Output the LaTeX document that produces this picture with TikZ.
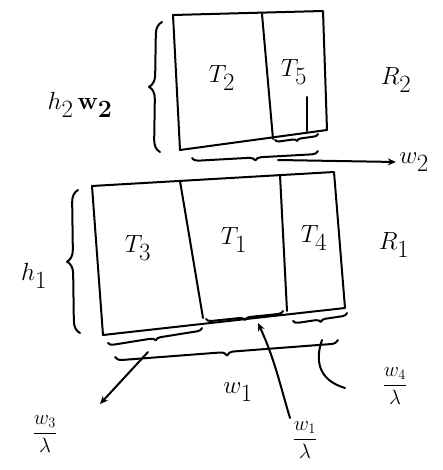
\documentclass[tikz,border=0pt]{standalone}
\usetikzlibrary{decorations.pathreplacing,arrows.meta}
\begin{document}
\begin{tikzpicture}[x=1pt,y=-1pt,
  ink/.style={line width=2pt,line cap=round,line join=round},
  brc/.style={ink,decorate,decoration={brace,amplitude=#1}},
  brc/.default=8pt,
  tile/.style={font=\fontsize{44}{44}\selectfont},
  lab/.style={font=\fontsize{34}{34}\selectfont},
  flab/.style={font=\fontsize{22}{22}\selectfont},
  arr/.style={ink,-{Stealth[length=8pt,width=7pt]}}]
\useasboundingbox (0,0) rectangle (442,470);
% R2 region
\coordinate (a1) at (173,15); \coordinate (a2) at (323,11);
\coordinate (a3) at (327,130); \coordinate (a4) at (180,150);
\coordinate (d1) at (262,14); \coordinate (d2) at (273,139);
\draw[ink] (a1) -- (a2) -- (a3) -- (a4) -- cycle;
\draw[ink] (d1) -- (d2);
\node[tile] (t2) at (222,78) {$T_2$};
\node[tile] (t5) at (294,72) {$T_5$};
\node[lab] (r2) at (396,80) {$R_2$};
\coordinate (v1) at (307,97); \coordinate (v2) at (307,131);
\draw[ink] (v1) -- (v2);
\coordinate (b5l) at (318,134); \coordinate (b5r) at (275,140);
\draw[brc=4pt] (b5l) -- (b5r);
\coordinate (b2r) at (318,151); \coordinate (b2l) at (192,158);
\draw[brc=6pt] (b2r) -- (b2l);
\coordinate (w2s) at (278,160);
\node[lab] (w2) at (414,162) {$w_2$};
\draw[arr] (w2s) -- (w2.west);
% left brace R2
\coordinate (lb2b) at (160,152); \coordinate (lb2t) at (162,22);
\draw[brc=12pt] (lb2b) -- (lb2t);
\node[lab] (h2) at (80,105) {$h_2\,\mathbf{w_2}$};
% R1 region
\coordinate (c1) at (92,186); \coordinate (c2) at (334,172);
\coordinate (c3) at (345,308); \coordinate (c4) at (103,335);
\coordinate (e1) at (180,181); \coordinate (e2) at (203,318);
\coordinate (f1) at (280,175); \coordinate (f2) at (287,311);
\draw[ink] (c1) -- (c2) -- (c3) -- (c4) -- cycle;
\draw[ink] (e1) -- (e2);
\draw[ink] (f1) -- (f2);
\node[tile] (t3) at (138,248) {$T_3$};
\node[tile] (t1) at (234,240) {$T_1$};
\node[tile] (t4) at (314,238) {$T_4$};
\node[lab] (r1) at (394,245) {$R_1$};
% left brace R1
\coordinate (lb1b) at (80,333); \coordinate (lb1t) at (78,190);
\draw[brc=12pt] (lb1b) -- (lb1t);
\node[lab] (h1) at (34,276) {$h_1$};
% bottom braces
\coordinate (g3r) at (202,328); \coordinate (g3l) at (108,343);
\draw[brc=5pt] (g3r) -- (g3l);
\coordinate (g1r) at (283,311); \coordinate (g1l) at (206,319);
\draw[brc=5pt] (g1r) -- (g1l);
\coordinate (g4r) at (347,313); \coordinate (g4l) at (293,321);
\draw[brc=5pt] (g4r) -- (g4l);
\coordinate (gr) at (338,340); \coordinate (gl) at (115,357);
\draw[brc=7pt] (gr) -- (gl);
\node[lab] (w1) at (238,392) {$w_1$};
% width labels
\node[flab] (q3) at (45,434) {$\displaystyle\frac{w_3}{\lambda}$};
\node[flab] (q1) at (305,440) {$\displaystyle\frac{w_1}{\lambda}$};
\node[flab] (q4) at (395,386) {$\displaystyle\frac{w_4}{\lambda}$};
\coordinate (s3) at (148,352); \coordinate (e3) at (100,404);
\draw[arr] (s3) -- (e3);
\coordinate (s1) at (290,418); \coordinate (e1b) at (258,323);
\draw[arr] (s1) .. controls (280,385) and (275,360) .. (e1b);
\coordinate (s4) at (322,340); \coordinate (e4) at (345,388);
\draw[ink] (s4) .. controls (315,360) and (318,380) .. (e4);
\end{tikzpicture}
\end{document}
